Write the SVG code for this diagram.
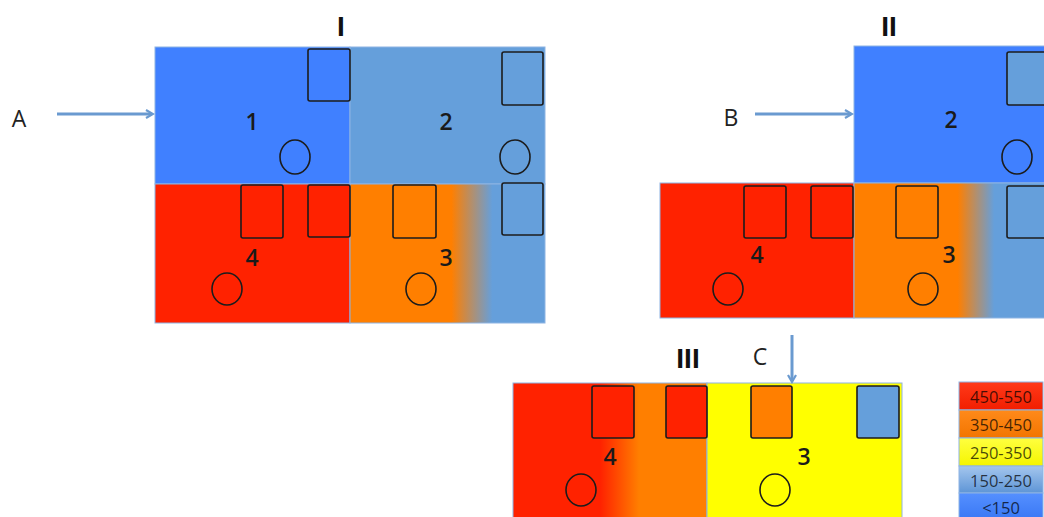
<svg xmlns="http://www.w3.org/2000/svg" width="1044" height="517" viewBox="0 0 1044 517">
<style>
.region{stroke:#8EB4E3;stroke-width:1}
.sq{stroke:#1c1c1c;stroke-width:1.6}
.ci{fill:none;stroke:#1c1c1c;stroke-width:1.6}
.num{font-family:"Open Sans","Liberation Sans",sans-serif;font-size:23px;font-weight:600;fill:#1a1a1a;text-anchor:middle;dominant-baseline:central}
.roman{font-family:"Liberation Sans",Arial,sans-serif;font-weight:bold;font-size:28px;fill:#111;text-anchor:middle;dominant-baseline:central}
.lbl{font-family:"Open Sans","Liberation Sans",sans-serif;font-size:23px;fill:#222;text-anchor:middle;dominant-baseline:central}
.leg{font-family:"Open Sans","Liberation Sans",sans-serif;font-size:16.5px;fill:#000;fill-opacity:0.72;text-anchor:middle;dominant-baseline:central}
.conn{stroke:#6A9AD0;stroke-width:3;fill:none;marker-end:url(#ah)}
.bb{fill:#4080FF}.lb{fill:#659FDB}.rd{fill:#FF2200}.or{fill:#FF7F00}.ye{fill:#FFFF00}
</style>
<defs>
<marker id="ah" markerWidth="10" markerHeight="10" refX="7" refY="5" orient="auto" markerUnits="userSpaceOnUse">
<path d="M1,1 L8,5 L1,9" fill="none" stroke="#6A9AD0" stroke-width="2.2"/>
</marker>
<linearGradient id="g3a" x1="0" y1="0" x2="1" y2="0">
<stop offset="0.52" stop-color="#FF7F00"/><stop offset="0.73" stop-color="#659FDB"/>
</linearGradient>
<linearGradient id="g3b" x1="0" y1="0" x2="1" y2="0">
<stop offset="0.54" stop-color="#FF7F00"/><stop offset="0.73" stop-color="#659FDB"/>
</linearGradient>
<linearGradient id="g4c" x1="0" y1="0" x2="1" y2="0">
<stop offset="0.45" stop-color="#FF2200"/><stop offset="0.65" stop-color="#FF7F00"/>
</linearGradient>
<linearGradient id="lgR" x1="0" y1="0" x2="0" y2="1"><stop offset="0" stop-color="#FF3A1A"/><stop offset="1" stop-color="#F21E00"/></linearGradient>
<linearGradient id="lgO" x1="0" y1="0" x2="0" y2="1"><stop offset="0" stop-color="#FF8A1A"/><stop offset="1" stop-color="#F27500"/></linearGradient>
<linearGradient id="lgY" x1="0" y1="0" x2="0" y2="1"><stop offset="0" stop-color="#FFFF40"/><stop offset="1" stop-color="#F5F500"/></linearGradient>
<linearGradient id="lgL" x1="0" y1="0" x2="0" y2="1"><stop offset="0" stop-color="#A4C6EE"/><stop offset="1" stop-color="#5E95D6"/></linearGradient>
<linearGradient id="lgB" x1="0" y1="0" x2="0" y2="1"><stop offset="0" stop-color="#5590FF"/><stop offset="1" stop-color="#3A78F5"/></linearGradient>
</defs>

<g id="diagram-I">
<rect class="region bb" x="155" y="47" width="195" height="137"/>
<rect class="region lb" x="350" y="47" width="195" height="137"/>
<rect class="region rd" x="155" y="184" width="195" height="139"/>
<rect class="region" x="350" y="184" width="195" height="139" fill="url(#g3a)"/>
<rect class="sq bb" x="308" y="49" width="42" height="52" rx="2"/>
<rect class="sq lb" x="502" y="52" width="41" height="53" rx="2"/>
<ellipse class="ci" cx="295" cy="157" rx="15" ry="17"/>
<ellipse class="ci" cx="515" cy="157" rx="15" ry="17"/>
<rect class="sq rd" x="241" y="185" width="42" height="53" rx="2"/>
<rect class="sq rd" x="308" y="185" width="42" height="52" rx="2"/>
<rect class="sq or" x="393" y="185" width="43" height="53" rx="2"/>
<rect class="sq lb" x="502" y="183" width="41" height="52" rx="2"/>
<ellipse class="ci" cx="227" cy="289" rx="15" ry="16"/>
<ellipse class="ci" cx="421" cy="289" rx="15" ry="16"/>
<text class="num" x="252" y="121">1</text>
<text class="num" x="446" y="121">2</text>
<text class="num" x="252" y="257">4</text>
<text class="num" x="446" y="257">3</text>
<text class="roman" x="341" y="26">I</text>
</g>

<g id="diagram-II">
<rect class="region bb" x="854" y="46" width="192" height="137"/>
<rect class="region rd" x="660" y="183" width="194" height="135"/>
<rect class="region" x="854" y="183" width="192" height="135" fill="url(#g3b)"/>
<rect class="sq lb" x="1007" y="52" width="42" height="53" rx="2"/>
<ellipse class="ci" cx="1017" cy="157" rx="15" ry="17"/>
<rect class="sq rd" x="744" y="186" width="42" height="52" rx="2"/>
<rect class="sq rd" x="811" y="186" width="42" height="52" rx="2"/>
<rect class="sq or" x="896" y="186" width="42" height="52" rx="2"/>
<rect class="sq lb" x="1007" y="186" width="42" height="52" rx="2"/>
<ellipse class="ci" cx="728" cy="289" rx="15" ry="16"/>
<ellipse class="ci" cx="923" cy="289" rx="15" ry="16"/>
<text class="num" x="951" y="119">2</text>
<text class="num" x="757" y="254">4</text>
<text class="num" x="949" y="254">3</text>
<text class="roman" x="889" y="26">II</text>
</g>

<g id="diagram-III">
<rect class="region" x="513" y="383" width="194" height="136" fill="url(#g4c)"/>
<rect class="region ye" x="707" y="383" width="195" height="136"/>
<rect class="sq rd" x="592" y="386" width="42" height="52" rx="2"/>
<rect class="sq rd" x="666" y="386" width="41" height="52" rx="2"/>
<rect class="sq or" x="751" y="386" width="41" height="52" rx="2"/>
<rect class="sq lb" x="857" y="386" width="42" height="52" rx="2"/>
<ellipse class="ci" cx="581" cy="490" rx="15" ry="16"/>
<ellipse class="ci" cx="775" cy="490" rx="15" ry="16"/>
<text class="num" x="610" y="456">4</text>
<text class="num" x="804" y="456">3</text>
<text class="roman" x="688" y="358">III</text>
</g>

<g id="legend">
<rect class="region" x="959" y="382" width="84" height="28" fill="url(#lgR)"/>
<rect class="region" x="959" y="410" width="84" height="28" fill="url(#lgO)"/>
<rect class="region" x="959" y="438" width="84" height="28" fill="url(#lgY)"/>
<rect class="region" x="959" y="466" width="84" height="27" fill="url(#lgL)"/>
<rect class="region" x="959" y="493" width="84" height="26" fill="url(#lgB)"/>
<text class="leg" x="1001" y="396">450-550</text>
<text class="leg" x="1001" y="424">350-450</text>
<text class="leg" x="1001" y="452">250-350</text>
<text class="leg" x="1001" y="480">150-250</text>
<text class="leg" x="1001" y="507">&lt;150</text>
</g>

<g id="labels">
<text class="lbl" x="19" y="118">A</text>
<text class="lbl" x="731" y="117">B</text>
<text class="lbl" x="760" y="356">C</text>
</g>

<g id="connectors">
<line class="conn" x1="57" y1="114" x2="152" y2="114"/>
<line class="conn" x1="755" y1="114" x2="851" y2="114"/>
<line class="conn" x1="792" y1="335" x2="792" y2="381"/>
</g>
</svg>
